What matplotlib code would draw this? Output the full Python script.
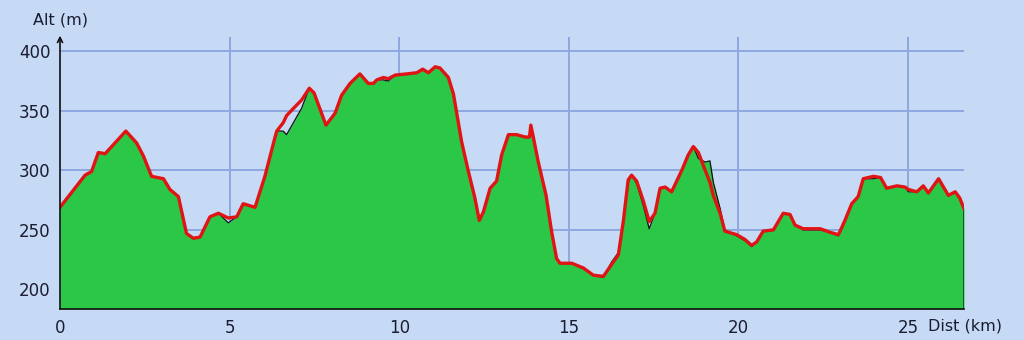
import numpy as np
import matplotlib
matplotlib.use('Agg')
import matplotlib.pyplot as plt

# distance (km) and altitude (m)
dist = [0.00, 0.74, 0.93, 1.13, 1.33, 1.62, 1.94, 2.26, 2.46, 2.70, 3.05, 3.24, 3.49,
        3.73, 3.93, 4.13, 4.42, 4.67, 4.96, 5.21, 5.40, 5.75, 6.04, 6.34, 6.39, 6.58,
        6.68, 6.88, 7.12, 7.35, 7.49, 7.84, 8.11, 8.30, 8.55, 8.84, 9.09, 9.24, 9.34,
        9.53, 9.68, 9.88, 10.22, 10.52, 10.69, 10.86, 11.06, 11.20, 11.45, 11.60, 11.84,
        12.04, 12.23, 12.36, 12.48, 12.68, 12.87, 13.02, 13.22, 13.46, 13.71, 13.84, 13.88,
        13.96, 14.10, 14.33, 14.49, 14.64, 14.74, 15.09, 15.43, 15.72, 16.02, 16.26, 16.46,
        16.61, 16.75, 16.85, 17.00, 17.20, 17.37, 17.54, 17.69, 17.84, 18.03, 18.33, 18.52,
        18.67, 18.82, 19.02, 19.16, 19.26, 19.46, 19.60, 19.95, 20.19, 20.39, 20.54, 20.73,
        21.03, 21.32, 21.52, 21.67, 21.91, 22.41, 22.70, 22.95, 23.14, 23.34, 23.53, 23.68,
        23.98, 24.19, 24.37, 24.67, 24.91, 25.01, 25.26, 25.45, 25.60, 25.90, 26.19, 26.39,
        26.52, 26.65]

# smoothed profile (red line)
alt_red = [269, 296, 299, 315, 314, 323, 333, 323, 312, 295, 293, 284, 278,
           247, 243, 244, 261, 264, 260, 261, 272, 269, 295, 328, 333, 340,
           346, 352, 359, 369, 365, 338, 348, 363, 373, 381, 373, 373, 376,
           378, 377, 380, 381, 382, 385, 382, 387, 386, 378, 364, 324,
           299, 277, 258, 265, 285, 291, 313, 330, 330, 328, 328, 338,
           327, 307, 279, 249, 226, 222, 222, 218, 212, 211, 221, 229,
           258, 292, 296, 291, 274, 257, 264, 285, 286, 282, 300, 313,
           320, 315, 300, 290, 279, 264, 249, 246, 242, 237, 240, 249,
           250, 264, 263, 254, 251, 251, 248, 246, 258, 272, 278, 293,
           295, 294, 285, 287, 286, 284, 282, 287, 281, 293, 279, 282,
           277, 268]

# raw profile (green area with black outline)
alt_raw = [269, 296, 299, 315, 314, 323, 333, 323, 312, 295, 293, 284, 278,
           247, 243, 244, 261, 264, 256, 261, 272, 269, 295, 328, 333, 333,
           330, 340, 352, 369, 365, 338, 348, 363, 373, 381, 373, 373, 376,
           376, 375, 380, 381, 382, 385, 382, 387, 386, 378, 364, 324,
           299, 277, 258, 265, 285, 291, 313, 330, 330, 328, 328, 338,
           327, 307, 279, 249, 226, 222, 222, 218, 212, 210, 223, 231,
           255, 290, 296, 289, 270, 251, 264, 285, 286, 282, 300, 313,
           320, 310, 307, 308, 290, 268, 250, 245, 241, 236, 240, 249,
           250, 264, 263, 254, 250, 250, 248, 245, 258, 272, 278, 293,
           293, 294, 285, 287, 286, 282, 282, 287, 281, 293, 279, 282,
           277, 268]

xticks = [0, 5, 10, 15, 20, 25]
yticks = [200, 250, 300, 350, 400]

bg = '#c6daf6'
grid_col = '#8ea7df'
text_col = '#1c1c30'

fig = plt.figure(figsize=(10.24, 3.4), dpi=100)
fig.patch.set_facecolor(bg)
ax = fig.add_axes([60 / 1024, 1 - 309 / 340, 904 / 1024, 272 / 340])
ax.set_facecolor(bg)

ax.set_xlim(0, 26.65)
ax.set_ylim(183.6, 412)

for x in xticks[1:]:
    ax.axvline(x, color=grid_col, lw=1.4, zorder=1)
for y in yticks:
    ax.axhline(y, color=grid_col, lw=1.4, zorder=1)

ax.fill_between(dist, alt_raw, 183.6, color='#2bc746', lw=0, zorder=2)
ax.plot(dist + [dist[-1]], alt_raw + [183.6], color='#101010', lw=0.9, zorder=3)
ax.plot(dist, alt_red, color='#e01414', lw=2.4, zorder=4, solid_joinstyle='round')

for s in ['top', 'right', 'left']:
    ax.spines[s].set_visible(False)
ax.spines['bottom'].set_color('#101010')
ax.spines['bottom'].set_linewidth(1.2)
ax.spines['bottom'].set_zorder(5)

# left axis with arrow
ax.annotate('', xy=(0, 1.005), xytext=(0, 0), xycoords='axes fraction',
            arrowprops=dict(arrowstyle='->', color='#101010', lw=1.2,
                            shrinkA=0, shrinkB=0, mutation_scale=9),
            zorder=6, annotation_clip=False)

ax.set_xticks(xticks)
ax.set_yticks(yticks)
ax.tick_params(axis='both', length=0, labelsize=12, labelcolor=text_col)
ax.tick_params(axis='x', pad=7)
ax.tick_params(axis='y', pad=7)

fig.text(33 / 1024, 1 - 20 / 340, 'Alt (m)', fontsize=11.5, color=text_col,
         ha='left', va='center')
fig.text(928 / 1024, 1 - 326 / 340, 'Dist (km)', fontsize=11.5, color=text_col,
         ha='left', va='center')

fig.savefig('out.png', dpi=100, facecolor=bg)
